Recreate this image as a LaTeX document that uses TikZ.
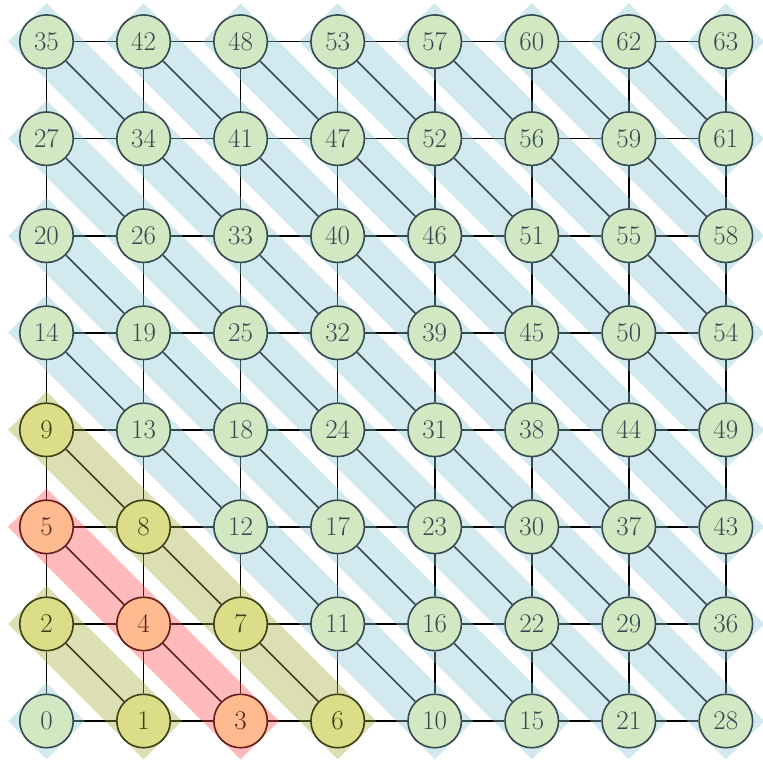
\documentclass[tikz,border=0pt]{standalone}
\usetikzlibrary{backgrounds}
\definecolor{nodefill}{RGB}{255,255,185}
\definecolor{bandblue}{RGB}{137,197,212}
\definecolor{bandred}{RGB}{255,75,75}
\definecolor{bandolive}{RGB}{162,167,57}
\begin{document}
\begin{tikzpicture}[x=97.05pt,y=97.05pt,
  vnode/.style={circle,draw=black,line width=1.6pt,fill=nodefill,minimum size=53.5pt,inner sep=0pt,font=\fontsize{27}{30}\selectfont},
  edge/.style={line width=1.6pt,black},
  band/.style={fill opacity=0.38,draw=none}]
\useasboundingbox (-46.5pt,-40pt) rectangle (716.5pt,721pt);
\foreach \row [count=\r from 0] in {{0,1,3,6,10,15,21,28},{2,4,7,11,16,22,29,36},{5,8,12,17,23,30,37,43},{9,13,18,24,31,38,44,49},{14,19,25,32,39,45,50,54},{20,26,33,40,46,51,55,58},{27,34,41,47,52,56,59,61},{35,42,48,53,57,60,62,63}}{
  \foreach \v [count=\c from 0] in \row {
    \node[vnode] (n-\c-\r) at (\c,\r) {\v};
  }
}
\begin{scope}[on background layer]
\foreach \c in {0,...,7}{
  \foreach \r in {0,...,7}{
    \pgfmathtruncatemacro\cp{\c+1}
    \pgfmathtruncatemacro\rp{\r+1}
    \pgfmathtruncatemacro\rq{\r-1}
    \ifnum\c<7 \draw[edge] (n-\c-\r) -- (n-\cp-\r);\fi
    \ifnum\r<7 \draw[edge] (n-\c-\r) -- (n-\c-\rp);\fi
    \ifnum\c<7 \ifnum\r>0 \draw[edge] (n-\c-\r) -- (n-\cp-\rq);\fi\fi
  }
}
\end{scope}
\foreach \k in {0,...,14}{
  \pgfmathtruncatemacro\lc{min(\k,7)}
  \pgfmathtruncatemacro\lr{\k-\lc}
  \pgfmathtruncatemacro\uc{max(0,\k-7)}
  \pgfmathtruncatemacro\ur{\k-\uc}
  \def\bc{bandblue}
  \ifnum\k=1 \def\bc{bandolive}\fi
  \ifnum\k=2 \def\bc{bandred}\fi
  \ifnum\k=3 \def\bc{bandolive}\fi
  \fill[band,fill=\bc] ([yshift=38.4pt]n-\uc-\ur.center) -- ([xshift=-38.4pt]n-\uc-\ur.center) -- ([yshift=-38.4pt]n-\lc-\lr.center) -- ([xshift=38.4pt]n-\lc-\lr.center) -- cycle;
}
\end{tikzpicture}
\end{document}
